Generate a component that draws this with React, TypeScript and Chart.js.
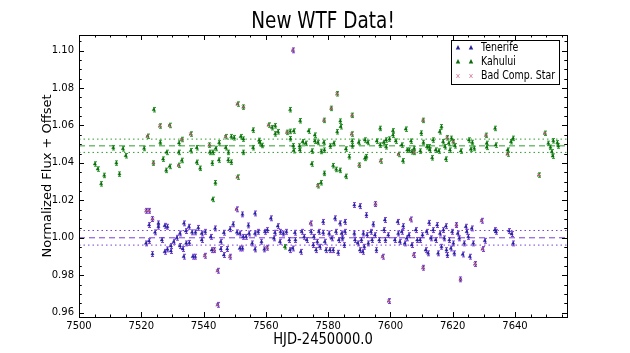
import React, { useEffect, useRef } from 'react';
import { Chart, registerables } from 'chart.js';

Chart.register(...registerables);

const FONT = "'DejaVu Sans', sans-serif";
const SQUISH = 0.82;

const chartTitle = 'New WTF Data!';
const xAxisTitle = 'HJD-2450000.0';
const yAxisTitle = 'Normalized Flux + Offset';
const seriesLabels = ['Tenerife', 'Kahului', 'Bad Comp. Star'];

const xTicks = [7500, 7520, 7540, 7560, 7580, 7600, 7620, 7640];
const yTicks = [0.96, 0.98, 1.0, 1.02, 1.04, 1.06, 1.08, 1.1];
const xRange = [7500, 7656.7];
const yRange = [0.9577, 1.1083];

const tenerifeMean = 1.0;
const tenerifeBand = [0.9961, 1.0039];
const kahuluiMean = 1.0491;
const kahuluiBand = [1.0456, 1.0527];
const tenerifeError = 0.0013;
const kahuluiError = 0.0012;

// [HJD-2450000, normalized flux]
const tenerifePoints: [number, number][] = [
  [7522.5, 1.0068], [7521.5, 0.997], [7522.5, 0.9982], [7523.6, 0.9913], [7524.4, 1.0029],
  [7525.5, 1.0077], [7525.5, 1.0059], [7526.6, 0.9988], [7527.5, 1.0064], [7527.5, 0.9925],
  [7528.4, 1.0059], [7528.4, 0.9938], [7529.5, 0.9956], [7529.5, 0.9929], [7530.4, 0.9979],
  [7531.4, 1.0], [7532.4, 0.9956], [7532.4, 1.0023], [7533.3, 0.994], [7533.6, 0.9899],
  [7533.7, 1.0077], [7534.3, 1.0036], [7534.4, 0.997], [7535.3, 1.0059], [7535.4, 0.9973],
  [7536.3, 1.0029], [7536.5, 0.9899], [7537.3, 0.9899], [7537.4, 1.0029], [7538.3, 1.0053],
  [7539.4, 1.0023], [7539.4, 0.9988], [7540.5, 1.0032], [7542.3, 1.0005], [7542.6, 0.9934],
  [7543.7, 1.005], [7545.5, 0.9979], [7545.5, 0.994], [7546.5, 1.0027], [7546.5, 0.9908],
  [7547.6, 0.994], [7548.5, 1.0046], [7549.5, 1.0072], [7550.7, 1.0029], [7551.6, 1.0023],
  [7551.6, 0.9943], [7552.5, 1.0125], [7552.5, 0.9943], [7552.7, 1.0005], [7553.6, 1.0005],
  [7554.4, 1.0066], [7554.6, 1.0023], [7555.6, 0.997], [7556.5, 1.013], [7556.5, 0.9938],
  [7556.5, 1.0023], [7557.5, 1.0032], [7558.6, 0.9979], [7559.5, 0.9938], [7559.7, 1.0032],
  [7560.5, 1.0041], [7561.6, 1.0104], [7562.6, 0.9997], [7562.9, 1.0027], [7563.8, 1.0062],
  [7564.5, 0.9979], [7564.7, 1.0032], [7565.6, 1.0023], [7566.6, 1.0032], [7567.5, 0.9988],
  [7567.7, 0.9934], [7568.6, 0.9943], [7569.3, 1.0027], [7569.5, 0.9988], [7571.2, 0.9925],
  [7571.5, 1.0032], [7572.3, 1.0005], [7573.1, 0.9988], [7574.5, 1.0032], [7575.2, 0.9961],
  [7575.4, 1.0005], [7576.1, 0.9934], [7576.5, 0.9979], [7577.0, 1.0032], [7577.3, 0.9952],
  [7578.4, 1.0085], [7578.4, 1.0027], [7578.9, 0.9979], [7579.3, 0.9934], [7580.3, 1.0023],
  [7580.5, 0.9934], [7581.1, 0.9997], [7581.6, 0.9934], [7582.2, 1.0104], [7582.5, 1.0032],
  [7583.2, 0.992], [7583.4, 0.9988], [7583.8, 1.0077], [7584.3, 1.0023], [7584.6, 0.9997],
  [7585.2, 0.9961], [7585.4, 1.0085], [7585.4, 1.0032], [7588.4, 1.0175], [7588.4, 1.0023],
  [7588.6, 0.9988], [7589.5, 0.997], [7590.2, 1.0169], [7590.2, 0.9934], [7590.7, 0.9988],
  [7591.1, 0.9925], [7591.3, 1.0023], [7591.6, 0.9952], [7592.3, 1.0121], [7592.5, 1.0014],
  [7592.9, 0.997], [7593.7, 1.0032], [7594.1, 0.9988], [7594.5, 1.0072], [7595.0, 1.0014],
  [7595.5, 0.9934], [7596.4, 0.9988], [7597.9, 1.0041], [7598.2, 1.0095], [7598.4, 0.9988],
  [7599.3, 1.0014], [7601.4, 0.9988], [7602.3, 1.0085], [7602.5, 1.0023], [7603.0, 0.9979],
  [7603.6, 1.0032], [7604.1, 1.0062], [7604.6, 0.997], [7605.2, 0.9997], [7605.9, 1.0014],
  [7606.8, 0.9961], [7608.1, 1.0041], [7608.6, 0.9988], [7609.5, 0.9988], [7610.3, 1.0014],
  [7611.3, 0.9934], [7611.6, 1.0032], [7612.1, 0.9917], [7612.4, 1.008], [7613.0, 0.9997],
  [7613.7, 1.0041], [7614.5, 0.9988], [7615.0, 1.0068], [7615.3, 0.9917], [7615.9, 1.0023],
  [7616.4, 0.9952], [7617.0, 1.0041], [7617.3, 0.9997], [7617.8, 1.0062], [7618.0, 0.9934],
  [7618.3, 0.9908], [7618.9, 0.9988], [7619.4, 0.9943], [7619.8, 1.0032], [7620.2, 0.997],
  [7620.5, 0.9917], [7621.6, 1.0023], [7622.1, 0.9997], [7623.2, 0.9911], [7623.7, 0.997],
  [7624.2, 1.0059], [7624.5, 1.0032], [7625.0, 1.0005], [7625.5, 0.9899], [7626.1, 1.005],
  [7626.6, 0.997], [7630.3, 0.9984], [7633.5, 1.0041], [7633.9, 1.0032], [7638.1, 1.0036],
  [7638.9, 1.002], [7639.4, 0.997],
];

const tenerifeBad: [number, number][] = [
  [7521.6, 1.0144], [7522.5, 1.0144], [7523.6, 1.01], [7540.4, 0.9904], [7543.4, 0.9934],
  [7544.5, 0.9824], [7544.5, 0.9642], [7548.5, 0.9899], [7550.6, 1.0152], [7560.4, 0.9947],
  [7568.7, 1.1001], [7574.4, 1.0077], [7595.2, 1.018], [7597.5, 0.9899], [7599.5, 0.9662],
  [7606.5, 1.0098], [7607.5, 0.9908], [7610.5, 0.984], [7621.2, 1.0068], [7622.5, 0.9778],
  [7627.2, 0.986], [7629.3, 1.0091], [7629.6, 0.994],
];

const kahuluiPoints: [number, number][] = [
  [7505.1, 1.0394], [7506.0, 1.0367], [7507.1, 1.0288], [7508.1, 1.0333], [7511.0, 1.0481],
  [7512.0, 1.0399], [7513.0, 1.034], [7514.1, 1.0475], [7515.0, 1.0438], [7520.9, 1.0477],
  [7524.0, 1.0684], [7526.1, 1.0509], [7527.0, 1.042], [7528.0, 1.036], [7528.1, 1.0456],
  [7529.1, 1.0381], [7532.0, 1.0456], [7532.1, 1.0506], [7533.0, 1.0413], [7535.9, 1.0465],
  [7537.8, 1.0481], [7537.8, 1.0403], [7538.9, 1.0371], [7542.0, 1.0456], [7542.9, 1.0456],
  [7542.8, 1.0399], [7543.8, 1.0294], [7542.9, 1.0205], [7543.9, 1.0477], [7544.9, 1.0415],
  [7545.0, 1.0507], [7547.1, 1.0481], [7548.0, 1.0456], [7547.9, 1.0415], [7548.9, 1.054],
  [7548.9, 1.0404], [7549.8, 1.0534], [7551.9, 1.054], [7552.8, 1.0527], [7552.8, 1.0456],
  [7555.9, 1.0575], [7555.9, 1.0481], [7557.8, 1.052], [7558.0, 1.0508], [7558.8, 1.0493],
  [7562.0, 1.0588], [7563.0, 1.0598], [7563.0, 1.0555], [7563.9, 1.0566], [7566.1, 0.9952],
  [7567.8, 1.0568], [7568.9, 1.057], [7567.8, 1.0684], [7567.9, 1.0529], [7568.8, 1.0491],
  [7568.9, 1.0465], [7570.8, 1.049], [7570.9, 1.0468], [7571.0, 1.0625], [7571.8, 1.0513],
  [7573.7, 1.057], [7572.8, 1.0504], [7574.8, 1.0463], [7574.7, 1.0394], [7575.7, 1.0548],
  [7575.7, 1.0516], [7577.7, 1.0294], [7576.7, 1.0509], [7577.8, 1.0461], [7578.8, 1.0344],
  [7578.6, 1.0509], [7578.8, 1.0468], [7580.7, 1.049], [7581.6, 1.0385], [7581.8, 1.0504],
  [7582.9, 1.0566], [7582.6, 1.0365], [7583.8, 1.036], [7583.9, 1.0623], [7584.0, 1.0593],
  [7585.7, 1.0328], [7585.7, 1.0474], [7586.8, 1.0433], [7587.7, 1.0516], [7587.8, 1.0491],
  [7589.8, 1.0509], [7591.8, 1.0522], [7591.8, 1.0424], [7592.3, 1.0433], [7592.7, 1.0509],
  [7595.6, 1.0516], [7596.7, 1.0584], [7596.7, 1.0495], [7597.8, 1.0509], [7598.6, 1.0522],
  [7598.6, 1.0486], [7599.7, 1.0527], [7600.8, 1.0571], [7600.8, 1.0548], [7601.7, 1.0516],
  [7603.6, 1.0495], [7604.0, 1.0411], [7604.9, 1.058], [7605.4, 1.0468], [7606.0, 1.0468],
  [7606.6, 1.0516], [7606.9, 1.0459], [7607.6, 1.0477], [7609.6, 1.0463], [7609.9, 1.0559],
  [7610.6, 1.0509], [7611.7, 1.0486], [7612.4, 1.0486], [7612.6, 1.0468], [7613.4, 1.0427],
  [7613.7, 1.0522], [7614.5, 1.0468], [7615.5, 1.0463], [7615.8, 1.0566], [7616.4, 1.0593],
  [7616.9, 1.0513], [7617.5, 1.0486], [7617.8, 1.042], [7618.7, 1.0504], [7619.1, 1.0468],
  [7619.6, 1.0531], [7620.7, 1.0491], [7622.6, 1.0463], [7625.2, 1.0522], [7625.8, 1.0472],
  [7626.3, 1.0509], [7626.9, 1.0477], [7630.9, 1.0504], [7630.9, 1.0483], [7633.6, 1.0584],
  [7633.8, 1.0495], [7637.6, 1.0468], [7638.7, 1.0513], [7639.4, 1.0531], [7650.7, 1.0504],
  [7651.4, 1.0483], [7651.8, 1.0459], [7652.1, 1.0436], [7652.3, 1.0518], [7653.6, 1.0507],
  [7653.9, 1.049],
];

const kahuluiBad: [number, number][] = [
  [7522.0, 1.0542], [7526.0, 1.0597], [7523.9, 1.0399], [7529.1, 1.06], [7532.0, 1.0387],
  [7533.0, 1.0525], [7535.9, 1.0554], [7541.9, 1.0495], [7547.1, 1.054], [7550.9, 1.0714],
  [7550.9, 1.0324], [7552.8, 1.0698], [7560.9, 1.0602], [7566.8, 1.0563], [7576.7, 1.0278],
  [7578.7, 1.0627], [7581.0, 1.0691], [7582.9, 1.0769], [7587.7, 1.0654], [7587.6, 1.0554],
  [7590.0, 1.0388], [7596.9, 1.041], [7602.6, 1.0445], [7607.6, 1.0456], [7610.5, 1.0627],
  [7618.2, 1.0534], [7620.2, 1.0513], [7630.7, 1.0547], [7637.6, 1.0447], [7647.7, 1.0335],
  [7649.6, 1.0558],
];

const TEN_MARK = '#23239a';
const TEN_ERR = '#7b3fd8';
const KAH_MARK = '#0b6a0b';
const KAH_ERR = '#2e9e2e';
const BAD_MARK = '#c8607e';
const BAD_LEGEND = '#e090a8';

const toXY = (arr: [number, number][]) => arr.map(([x, y]) => ({ x, y }));

const hLine = (y: number, color: string, dash: number[]) => ({
  type: 'line' as const,
  data: [{ x: xRange[0], y }, { x: xRange[1], y }],
  borderColor: color,
  borderWidth: 1,
  borderDash: dash,
  pointRadius: 0,
  showLine: true,
  order: 10,
});

function squishText(
  ctx: CanvasRenderingContext2D,
  text: string,
  x: number,
  y: number,
  size: number,
  align: CanvasTextAlign,
) {
  ctx.save();
  ctx.translate(x, y);
  ctx.scale(SQUISH, 1);
  ctx.font = `${size}px ${FONT}`;
  ctx.textAlign = align;
  ctx.textBaseline = 'middle';
  ctx.fillStyle = '#000';
  ctx.fillText(text, 0, 0);
  ctx.restore();
}

const errorBarPlugin = {
  id: 'errorBars',
  beforeDatasetsDraw(chart: any) {
    const { ctx, scales, chartArea } = chart;
    const xs = scales.x;
    const ys = scales.y;
    ctx.save();
    ctx.beginPath();
    ctx.rect(chartArea.left, chartArea.top, chartArea.right - chartArea.left, chartArea.bottom - chartArea.top);
    ctx.clip();
    chart.data.datasets.forEach((ds: any) => {
      if (!ds.errorSize) return;
      ctx.strokeStyle = ds.errorColor;
      ctx.lineWidth = 1;
      ds.data.forEach((p: any) => {
        const px = Math.round(xs.getPixelForValue(p.x)) + 0.5;
        const y1 = ys.getPixelForValue(p.y - ds.errorSize);
        const y2 = ys.getPixelForValue(p.y + ds.errorSize);
        ctx.beginPath();
        ctx.moveTo(px, y1);
        ctx.lineTo(px, y2);
        ctx.moveTo(px - 1.5, y1);
        ctx.lineTo(px + 1.5, y1);
        ctx.moveTo(px - 1.5, y2);
        ctx.lineTo(px + 1.5, y2);
        ctx.stroke();
      });
    });
    ctx.restore();
  },
};

const framePlugin = {
  id: 'frameTicks',
  afterDatasetsDraw(chart: any) {
    const { ctx, chartArea, scales } = chart;
    const { left, right, top, bottom } = chartArea;
    const xs = scales.x;
    const ys = scales.y;
    ctx.save();
    ctx.strokeStyle = '#000';
    ctx.lineWidth = 1;
    ctx.strokeRect(Math.round(left) + 0.5, Math.round(top) + 0.5, Math.round(right - left), Math.round(bottom - top));
    ctx.beginPath();
    const xMinor: number[] = [];
    for (let i = 0; i < xTicks.length; i++) {
      for (let k = 1; k < 4; k++) xMinor.push(xTicks[i] + k * 5);
    }
    xTicks.forEach((v) => {
      const px = Math.round(xs.getPixelForValue(v)) + 0.5;
      ctx.moveTo(px, bottom);
      ctx.lineTo(px, bottom - 5);
      ctx.moveTo(px, top);
      ctx.lineTo(px, top + 5);
    });
    xMinor.forEach((v) => {
      if (v > xRange[1]) return;
      const px = Math.round(xs.getPixelForValue(v)) + 0.5;
      ctx.moveTo(px, bottom);
      ctx.lineTo(px, bottom - 2.5);
      ctx.moveTo(px, top);
      ctx.lineTo(px, top + 2.5);
    });
    yTicks.forEach((v) => {
      const py = Math.round(ys.getPixelForValue(v)) + 0.5;
      ctx.moveTo(left, py);
      ctx.lineTo(left + 5, py);
      ctx.moveTo(right, py);
      ctx.lineTo(right - 5, py);
    });
    yTicks.forEach((v) => {
      for (let k = -3; k <= 3; k++) {
        if (k === 0) continue;
        const mv = v + k * 0.005;
        if (mv < yRange[0] || mv > yRange[1]) continue;
        const py = Math.round(ys.getPixelForValue(mv)) + 0.5;
        ctx.moveTo(left, py);
        ctx.lineTo(left + 2.5, py);
        ctx.moveTo(right, py);
        ctx.lineTo(right - 2.5, py);
      }
    });
    ctx.stroke();
    ctx.restore();
  },
};

function drawTriangle(ctx: CanvasRenderingContext2D, x: number, y: number, r: number, color: string) {
  ctx.beginPath();
  ctx.moveTo(x, y - r);
  ctx.lineTo(x - r * 0.75, y + r * 0.5);
  ctx.lineTo(x + r * 0.75, y + r * 0.5);
  ctx.closePath();
  ctx.fillStyle = color;
  ctx.fill();
}

function drawCross(ctx: CanvasRenderingContext2D, x: number, y: number, r: number, color: string) {
  ctx.beginPath();
  ctx.moveTo(x - r * 0.8, y - r);
  ctx.lineTo(x + r * 0.8, y + r);
  ctx.moveTo(x - r * 0.8, y + r);
  ctx.lineTo(x + r * 0.8, y - r);
  ctx.strokeStyle = color;
  ctx.lineWidth = 1;
  ctx.stroke();
}

const textPlugin = {
  id: 'squishedText',
  afterDraw(chart: any) {
    const { ctx, chartArea } = chart;
    const cx = (chartArea.left + chartArea.right) / 2;
    squishText(ctx, chartTitle, cx, 22, 22.5, 'center');
    squishText(ctx, xAxisTitle, cx, 340, 16, 'center');

    // legend box
    const right = chartArea.right - 8;
    const top = chartArea.top + 5;
    const w = 108;
    const h = 44;
    const left = right - w;
    ctx.save();
    ctx.fillStyle = '#fff';
    ctx.fillRect(left, top, w, h);
    ctx.strokeStyle = '#000';
    ctx.lineWidth = 1;
    ctx.strokeRect(Math.round(left) + 0.5, Math.round(top) + 0.5, w, h);
    seriesLabels.forEach((label, i) => {
      const cy = top + 8 + i * 14;
      const m1 = left + 7;
      const m2 = left + 20;
      if (i === 0) {
        drawTriangle(ctx, m1, cy, 3, TEN_MARK);
        drawTriangle(ctx, m2, cy, 3, TEN_MARK);
      } else if (i === 1) {
        drawTriangle(ctx, m1, cy, 3, KAH_MARK);
        drawTriangle(ctx, m2, cy, 3, KAH_MARK);
      } else {
        drawCross(ctx, m1, cy, 2, BAD_LEGEND);
        drawCross(ctx, m2, cy, 2, BAD_LEGEND);
      }
      squishText(ctx, label, left + 30, cy + 0.5, 11.5, 'left');
    });
    ctx.restore();
  },
};

export default function App() {
  const canvasRef = useRef<HTMLCanvasElement | null>(null);

  useEffect(() => {
    document.body.style.margin = '0';
    const canvas = canvasRef.current;
    if (!canvas) return;
    const chart = new Chart(canvas, {
      type: 'scatter',
      data: {
        datasets: [
          hLine(tenerifeMean, TEN_ERR, [6, 4]),
          hLine(tenerifeBand[0], TEN_ERR, [1.5, 3]),
          hLine(tenerifeBand[1], TEN_ERR, [1.5, 3]),
          hLine(kahuluiMean, KAH_ERR, [6, 4]),
          hLine(kahuluiBand[0], KAH_ERR, [1.5, 3]),
          hLine(kahuluiBand[1], KAH_ERR, [1.5, 3]),
          {
            label: seriesLabels[0],
            data: toXY([...tenerifePoints, ...tenerifeBad]),
            pointStyle: 'triangle',
            pointRadius: 1.8,
            pointBackgroundColor: TEN_MARK,
            pointBorderColor: TEN_MARK,
            pointBorderWidth: 0.5,
            errorSize: tenerifeError,
            errorColor: TEN_ERR,
            order: 3,
          } as any,
          {
            label: seriesLabels[1],
            data: toXY([...kahuluiPoints, ...kahuluiBad]),
            pointStyle: 'triangle',
            pointRadius: 1.8,
            pointBackgroundColor: KAH_MARK,
            pointBorderColor: KAH_MARK,
            pointBorderWidth: 0.5,
            errorSize: kahuluiError,
            errorColor: KAH_ERR,
            order: 2,
          } as any,
          {
            label: seriesLabels[2],
            data: toXY([...tenerifeBad, ...kahuluiBad]),
            pointStyle: 'crossRot',
            pointRadius: 2.2,
            pointBorderColor: BAD_MARK,
            pointBackgroundColor: BAD_MARK,
            pointBorderWidth: 1,
            order: 1,
          } as any,
        ],
      },
      options: {
        animation: false,
        responsive: false,
        devicePixelRatio: 1,
        events: [],
        layout: { padding: { left: 0, right: 63, top: 35, bottom: 0 } },
        plugins: {
          legend: { display: false },
          tooltip: { enabled: false },
          title: { display: false },
        },
        scales: {
          x: {
            type: 'linear',
            min: xRange[0],
            max: xRange[1],
            afterBuildTicks: (scale: any) => {
              scale.ticks = xTicks.map((v) => ({ value: v }));
            },
            afterFit: (scale: any) => {
              scale.height = 36;
            },
            grid: { display: false, drawTicks: false },
            border: { display: false },
            ticks: {
              color: '#000',
              padding: 3,
              maxRotation: 0,
              autoSkip: false,
              font: { family: FONT, size: 10 },
              callback: (v: any) => String(v),
            },
            title: { display: false },
          },
          y: {
            type: 'linear',
            min: yRange[0],
            max: yRange[1],
            afterBuildTicks: (scale: any) => {
              scale.ticks = yTicks.map((v) => ({ value: v }));
            },
            afterFit: (scale: any) => {
              scale.width = 79;
            },
            grid: { display: false, drawTicks: false },
            border: { display: false },
            ticks: {
              color: '#000',
              padding: 5,
              autoSkip: false,
              font: { family: FONT, size: 10 },
              callback: (v: any) => Number(v).toFixed(2),
            },
            title: {
              display: true,
              text: yAxisTitle,
              color: '#000',
              font: { family: FONT, size: 13 },
              padding: { top: 40, bottom: 0 },
            },
          },
        },
      } as any,
      plugins: [errorBarPlugin, framePlugin, textPlugin],
    });
    return () => chart.destroy();
  }, []);

  return (
    <div style={{ width: 630, height: 353, background: '#fff' }}>
      <canvas ref={canvasRef} width={630} height={353} style={{ display: 'block' }} />
    </div>
  );
}
